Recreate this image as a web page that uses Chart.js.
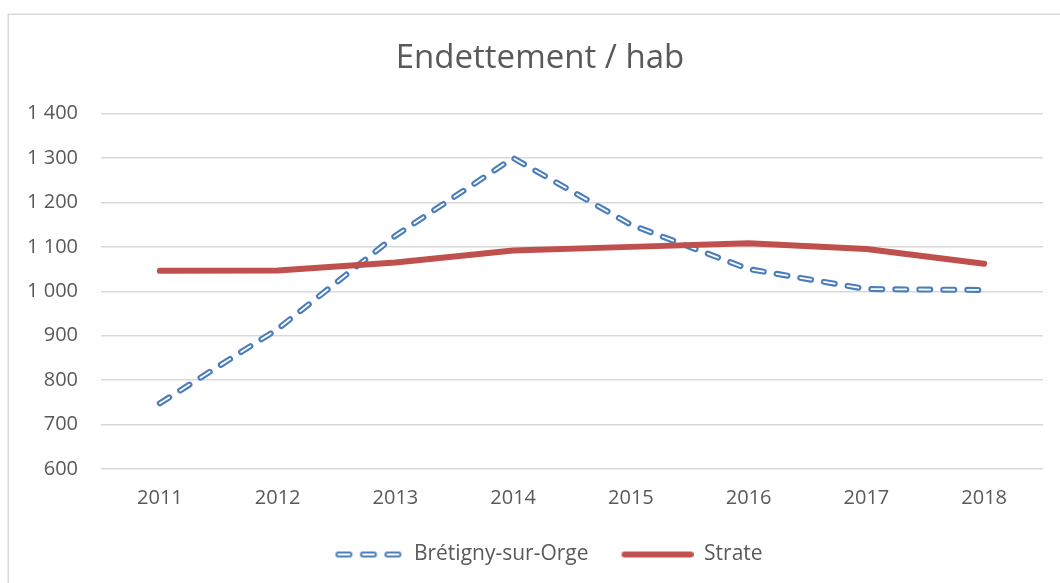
<!DOCTYPE html>
<html>
<head>
<meta charset="utf-8">
<script src="https://cdn.jsdelivr.net/npm/chart.js@4.4.1/dist/chart.umd.min.js"></script>
<style>
  html, body { margin: 0; padding: 0; background: #fff; }
  #wrap { width: 1060px; height: 583px; }
</style>
</head>
<body>
<div id="wrap"><canvas id="debt"></canvas></div>
<script>
const years = ['2011', '2012', '2013', '2014', '2015', '2016', '2017', '2018'];
const bretigny = [748, 915, 1125, 1300, 1150, 1050, 1005, 1003];
const strate = [1046, 1047, 1065, 1092, 1100, 1108, 1095, 1062];
const yMin = 600, yMax = 1400, yStep = 100;

const BLUE = '#4a7ebb';
const RED = '#c0504d';
const GRID = '#d9d9d9';
const TEXT = '#595959';
const FONT = "'Open Sans', sans-serif";

Chart.defaults.font.family = FONT;
Chart.defaults.color = TEXT;

const SW = 86; // legend swatch box width

// legend swatches, drawn by hand so the outlined dashes look right
function swatch(kind) {
    const c = document.createElement('canvas');
    c.width = SW; c.height = 12;
    const g = c.getContext('2d');
    g.lineCap = 'round';
    if (kind === 'dash') {
        const segs = [];
        for (let i = 0; i < 3; i++) {
            const s = SW - 2 - 66 + 3 + i * 24.5;
            segs.push([s, s + 11]);
        }
        [[BLUE, 6], ['#ffffff', 1.8]].forEach(([col, w]) => {
            g.strokeStyle = col;
            g.lineWidth = w;
            segs.forEach(([a, b]) => {
                g.beginPath(); g.moveTo(a, 6); g.lineTo(b, 6); g.stroke();
            });
        });
    } else {
        g.strokeStyle = RED;
        g.lineWidth = 6;
        g.beginPath(); g.moveTo(SW - 72 + 3, 6); g.lineTo(SW - 3, 6); g.stroke();
    }
    return c;
}
const blueSwatch = swatch('dash');
const redSwatch = swatch('solid');

var frame = {
    id: 'frame',
    beforeDraw: (chart) => {
        const {ctx} = chart;
        ctx.save();
        ctx.fillStyle = '#ffffff';
        ctx.fillRect(0, 0, chart.width, chart.height);
        ctx.strokeStyle = GRID;
        ctx.lineWidth = 1.5;
        ctx.strokeRect(8.25, 14.25, chart.width + 20, chart.height + 20);
        ctx.restore();
    }
};

const fmt = v => String(v).replace(/\B(?=(\d{3})+(?!\d))/g, ' ');

new Chart(document.getElementById('debt'), {
    type: 'line',
    data: {
        labels: years,
        datasets: [
            {
                label: 'Strate',
                data: strate,
                borderColor: RED,
                backgroundColor: RED,
                borderWidth: 6,
                borderCapStyle: 'round',
                borderJoinStyle: 'round',
                pointRadius: 0,
                tension: 0
            },
            {
                label: 'inner',
                data: bretigny,
                borderColor: '#ffffff',
                borderWidth: 1.8,
                borderDash: [11, 13],
                borderCapStyle: 'round',
                borderJoinStyle: 'round',
                pointRadius: 0,
                tension: 0
            },
            {
                label: 'Brétigny-sur-Orge',
                data: bretigny,
                borderColor: BLUE,
                backgroundColor: BLUE,
                borderWidth: 6,
                borderDash: [11, 13],
                borderCapStyle: 'round',
                borderJoinStyle: 'round',
                pointRadius: 0,
                tension: 0
            }
        ]
    },
    options: {
        responsive: true,
        maintainAspectRatio: false,
        animation: false,
        events: [],
        layout: { padding: { top: 0, left: 20, right: 0, bottom: 8 } },
        plugins: {
            title: {
                display: true,
                text: 'Endettement / hab',
                color: TEXT,
                font: { size: 33, weight: 'normal' },
                padding: { top: 39, bottom: 35 }
            },
            legend: {
                position: 'bottom',
                labels: {
                    usePointStyle: true,
                    pointStyleWidth: SW,
                    padding: 19,
                    color: TEXT,
                    font: { size: 21 },
                    generateLabels: () => [
                        { text: 'Brétigny-sur-Orge', pointStyle: blueSwatch, fontColor: TEXT, strokeStyle: 'transparent', fillStyle: 'transparent', lineWidth: 0, datasetIndex: 2 },
                        { text: 'Strate', pointStyle: redSwatch, fontColor: TEXT, strokeStyle: 'transparent', fillStyle: 'transparent', lineWidth: 0, datasetIndex: 0 }
                    ]
                }
            },
            tooltip: { enabled: false }
        },
        scales: {
            x: {
                offset: true,
                grid: { display: false, drawTicks: false },
                border: { display: false },
                ticks: { color: TEXT, font: { size: 20 }, padding: 17, maxRotation: 0 },
                afterFit: (scale) => { scale.height = 56; }
            },
            y: {
                min: yMin,
                max: yMax,
                grid: { color: GRID, lineWidth: 1.5, drawTicks: false },
                border: { display: false },
                ticks: {
                    stepSize: yStep,
                    color: TEXT,
                    font: { size: 20 },
                    padding: 23,
                    callback: v => fmt(v)
                },
                afterFit: (scale) => { scale.width = 81; }
            },
            // empty right-hand axis, only there to leave the right margin
            yRight: {
                position: 'right',
                grid: { display: false, drawTicks: false },
                border: { display: false },
                ticks: { display: false },
                afterFit: (scale) => { scale.width = 17; }
            }
        }
    },
    plugins: [frame]
});
</script>
</body>
</html>
